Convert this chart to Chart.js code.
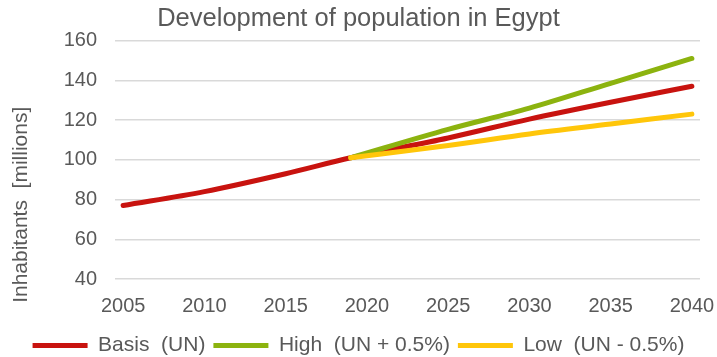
<!DOCTYPE html>
<html>
<head>
<meta charset="utf-8">
<script src="https://cdn.jsdelivr.net/npm/chart.js@4"></script>
<style>
	html, body { margin: 0; padding: 0; background: #fff; }
	#wrap { width: 717px; height: 357px; }
</style>
</head>
<body>
<div id="wrap"><canvas id="chart"></canvas></div>
<script>
const years = [2005, 2010, 2015, 2019, 2025, 2030, 2035, 2040];
const basis = [77, 84, 93, 101, 111, 120.5, 129, 137];
const high = [null, null, null, 101, 115.3, 126, 138.5, 151];
const low = [null, null, null, 101, 107.2, 113, 118, 123];
const xTicks = [2005, 2010, 2015, 2020, 2025, 2030, 2035, 2040];
const seriesNames = ["Basis  (UN)", "High  (UN + 0.5%)", "Low  (UN - 0.5%)"];
const seriesColors = ["#C8130F", "#8CB30F", "#FFC60A"];

const textColor = "#595959";
const fontFamily = "'Liberation Sans', Arial, sans-serif";

const toPoints = vals => years.map((x, i) => ({ x, y: vals[i] }));

const makeSet = (i, vals, order) => ({
	label: seriesNames[i],
	data: toPoints(vals),
	borderColor: seriesColors[i],
	backgroundColor: seriesColors[i],
	borderWidth: 5,
	borderCapStyle: "round",
	pointRadius: 0,
	cubicInterpolationMode: "monotone",
	order
});

// y axis title sits lower than the axis centre in the original, so draw it by hand
const yTitle = {
	id: "yTitle",
	afterDraw(chart) {
		const { ctx, chartArea } = chart;
		ctx.save();
		ctx.translate(21, (chartArea.top + chartArea.bottom) / 2 + 45);
		ctx.rotate(-Math.PI / 2);
		ctx.font = `21px ${fontFamily}`;
		ctx.fillStyle = textColor;
		ctx.textAlign = "center";
		ctx.textBaseline = "middle";
		ctx.fillText("Inhabitants  [millions]", 0, 0);
		ctx.restore();
	}
};

new Chart(document.getElementById("chart"), {
	type: "line",
	data: {
		datasets: [makeSet(0, basis, 3), makeSet(1, high, 2), makeSet(2, low, 1)]
	},
	plugins: [yTitle],
	options: {
		responsive: true,
		maintainAspectRatio: false,
		animation: false,
		layout: { padding: { left: 0, right: 0, top: 4, bottom: -9 } },
		plugins: {
			title: {
				display: true,
				text: "Development of population in Egypt",
				color: textColor,
				font: { family: fontFamily, size: 25.5, weight: "normal" },
				padding: { top: 0, bottom: 6 }
			},
			legend: {
				position: "bottom",
				labels: {
					color: textColor,
					font: { family: fontFamily, size: 21 },
					boxWidth: 55,
					boxHeight: 5,
					padding: 8,
					sort: (a, b) => a.datasetIndex - b.datasetIndex,
					generateLabels: chart => Chart.defaults.plugins.legend.labels.generateLabels(chart)
						.map(l => ({ ...l, lineWidth: 0 }))
				}
			},
			tooltip: { enabled: false }
		},
		scales: {
			x: {
				type: "linear",
				min: 2004.5,
				max: 2040.5,
				afterBuildTicks: axis => { axis.ticks = xTicks.map(value => ({ value })); },
				afterFit: axis => { axis.paddingRight = 17; axis.height = 48; },
				grid: { display: false, drawTicks: false },
				border: { display: false },
				ticks: {
					color: textColor,
					font: { family: fontFamily, size: 20 },
					padding: 15,
					maxRotation: 0,
					callback: v => String(v)
				}
			},
			y: {
				min: 40,
				max: 160,
				afterFit: axis => { axis.width = 115; },
				grid: { color: "#D9D9D9", lineWidth: 1.5, drawTicks: false },
				border: { display: false },
				ticks: {
					stepSize: 20,
					color: textColor,
					font: { family: fontFamily, size: 20 },
					padding: 18
				}
			}
		}
	}
});
</script>
</body>
</html>
